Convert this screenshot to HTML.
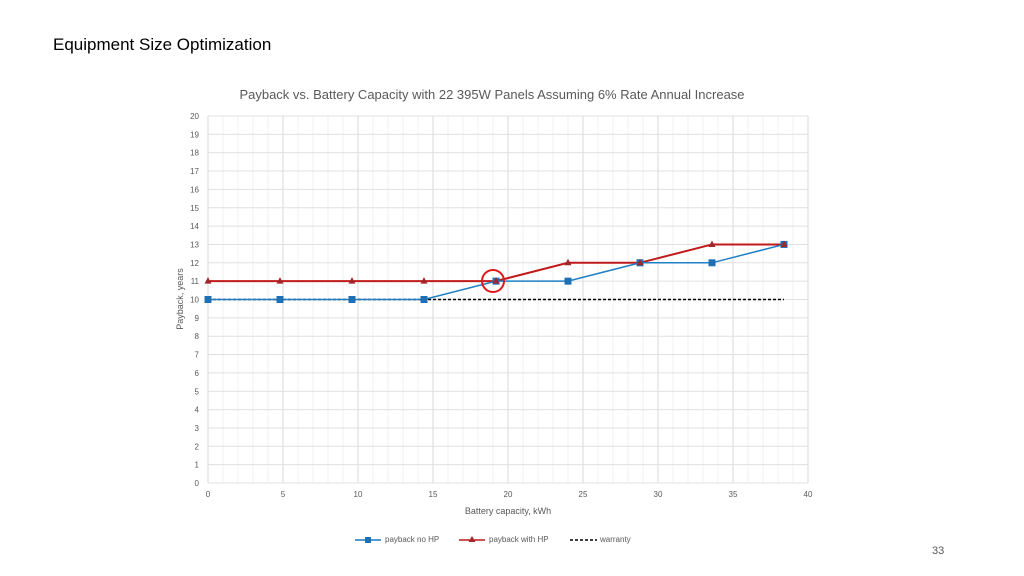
<!DOCTYPE html>
<html><head><meta charset="utf-8"><style>
body{margin:0;width:1024px;height:576px;background:#fff;overflow:hidden;font-family:"Liberation Sans",sans-serif}
</style></head><body>
<svg id="c" width="1024" height="576" style="position:absolute;left:0;top:0">
<text x="53" y="50" font-size="17" fill="#000">Equipment Size Optimization</text>
<text x="492" y="99" font-size="13" fill="#595959" text-anchor="middle">Payback vs. Battery Capacity with 22 395W Panels Assuming 6% Rate Annual Increase</text>
<g id="grid"></g><g id="axes"></g><g id="series"></g>
<circle cx="493" cy="281" r="11" fill="none" stroke="#e0161b" stroke-width="2"/>
<text x="508" y="514" font-size="9" fill="#595959" text-anchor="middle">Battery capacity, kWh</text>
<text transform="translate(183,299) rotate(-90)" font-size="9" fill="#595959" text-anchor="middle">Payback, years</text>
<g font-size="8" fill="#595959">
<line x1="355" y1="540" x2="381" y2="540" stroke="#1f77c0" stroke-width="1.5"/><rect x="365" y="537" width="6" height="6" fill="#1f6fb4"/>
<text x="385" y="542">payback no HP</text>
<line x1="459" y1="540" x2="485" y2="540" stroke="#c01a1a" stroke-width="1.5"/><path d="M472 536 L475.5 542 L468.5 542Z" fill="#a0282c"/>
<text x="489" y="542">payback with HP</text>
<line x1="570" y1="540" x2="597" y2="540" stroke="#000" stroke-width="1.5" stroke-dasharray="3,2"/>
<text x="600" y="542">warranty</text>
</g>
<text x="932" y="554" font-size="11" fill="#595959">33</text>
</svg>
<script>
const xs=[0,4.8,9.6,14.4,19.2,24,28.8,33.6,38.4];
const noHP=[10,10,10,10,11,11,12,12,13];
const withHP=[11,11,11,11,11,12,12,13,13];
const warrantyX=[0,38.4];
const warrantyY=[10,10];
const xTicks=[0,5,10,15,20,25,30,35,40];
const yTicks=[0,1,2,3,4,5,6,7,8,9,10,11,12,13,14,15,16,17,18,19,20];
const NS="http://www.w3.org/2000/svg";
const X=v=>208+v*15, Y=v=>483-v*18.35;
function mk(t,a,p){const e=document.createElementNS(NS,t);for(const k in a)e.setAttribute(k,a[k]);document.getElementById(p).appendChild(e);return e;}
for(let i=0;i<=40;i++){const l=mk('line',{x1:X(i),x2:X(i),y1:Y(0),y2:Y(20),stroke:i%5?'#f2f2f2':'#d9d9d9','stroke-width':1},'grid');

}
for(let j=0;j<=20;j++){const l=mk('line',{x1:X(0),x2:X(40),y1:Y(j),y2:Y(j),stroke:'#e0e0e0','stroke-width':1},'grid');

}
xTicks.forEach(v=>{const t=mk('text',{x:X(v),y:497,'font-size':8,fill:'#595959','text-anchor':'middle'},'axes');t.textContent=v;

});
yTicks.forEach(v=>{const t=mk('text',{x:199,y:Y(v)+3,'font-size':8,fill:'#595959','text-anchor':'end'},'axes');t.textContent=v;

});
const w=mk('polyline',{points:warrantyX.map((x,i)=>X(x)+','+Y(warrantyY[i])).join(' '),fill:'none',stroke:'#000','stroke-width':1.5,'stroke-dasharray':'3,2'},'series');


const r=mk('polyline',{points:xs.map((x,i)=>X(x)+','+Y(withHP[i])).join(' '),fill:'none',stroke:'#c01a1a','stroke-width':2},'series');


const b=mk('polyline',{points:xs.map((x,i)=>X(x)+','+Y(noHP[i])).join(' '),fill:'none',stroke:'#1f7fc4','stroke-width':1.5},'series');


xs.forEach((x,i)=>{const s=mk('rect',{x:X(x)-3.5,y:Y(noHP[i])-3.5,width:7,height:7,fill:'#1f6fb4'},'series');


const cx=X(x),cy=Y(withHP[i]);const t=mk('path',{d:`M${cx} ${cy-4} L${cx+3.5} ${cy+2.5} L${cx-3.5} ${cy+2.5}Z`,fill:'#a0282c'},'series');

});
</script>
</body></html>
